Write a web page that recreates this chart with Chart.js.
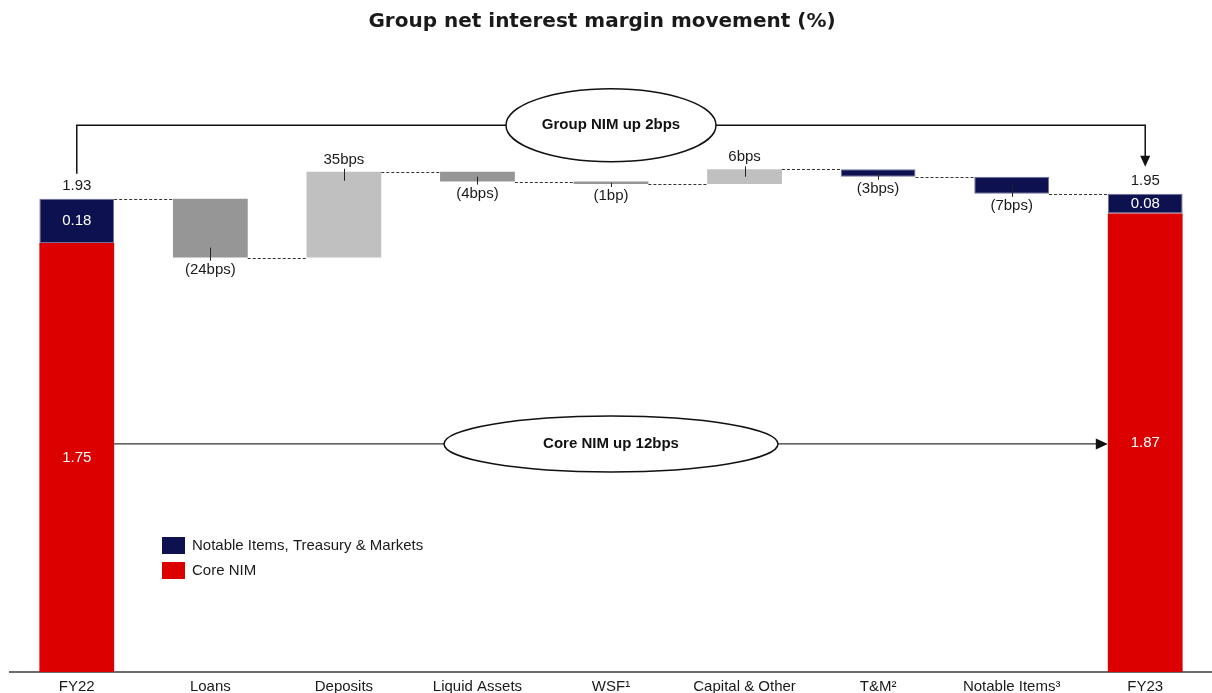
<!DOCTYPE html>
<html><head><meta charset="utf-8">
<script src="https://cdn.jsdelivr.net/npm/chart.js@4.4.0/dist/chart.umd.min.js"></script>
<style>html,body{margin:0;padding:0;background:#fff}#wrap{width:1212px;height:693px;position:relative}</style>
</head><body><div id="wrap"><canvas id="c" width="1212" height="693"></canvas></div>
<script>
// ---- data ----
const chartTitle = 'Group net interest margin movement (%)';
const categories = ['FY22', 'Loans', 'Deposits', 'Liquid Assets', 'WSF\u00B9', 'Capital & Other', 'T&M\u00B2', 'Notable Items\u00B3', 'FY23'];
const coreNim = [1.75, null, null, null, null, null, null, null, 1.87];
const notableTreasuryMarkets = [0.18, null, null, null, null, null, null, null, 0.08];
const groupNim = [1.93, null, null, null, null, null, null, null, 1.95];
const movementBps = [null, -24, 35, -4, -1, 6, -3, -7, null];
const movementLabels = ['', '(24bps)', '35bps', '(4bps)', '(1bp)', '6bps', '(3bps)', '(7bps)', ''];
const valueLabelsCore = ['1.75', '', '', '', '', '', '', '', '1.87'];
const valueLabelsNitm = ['0.18', '', '', '', '', '', '', '', '0.08'];
const totalLabels = ['1.93', '', '', '', '', '', '', '', '1.95'];
const groupNote = 'Group NIM up 2bps';
const coreNote = 'Core NIM up 12bps';

// ---- styles ----
const RED = '#dc0000', NAVY = '#0e1150', DARK = '#969696', LIGHT = '#c0c0c0';
const moveColorByCategory = {
  'Loans': DARK, 'Deposits': LIGHT, 'Liquid Assets': DARK, 'WSF\u00B9': DARK,
  'Capital & Other': LIGHT, 'T&M\u00B2': NAVY, 'Notable Items\u00B3': NAVY
};
const FONT = '"Liberation Sans", Arial, sans-serif';

// ---- derived ranges ----
const coreRanges = coreNim.map(v => v == null ? null : [0, v]);
const nitmRanges = coreNim.map((v, i) => v == null ? null : [v, +(v + notableTreasuryMarkets[i]).toFixed(4)]);
let run = groupNim[0];
const moveRanges = movementBps.map(b => {
  if (b == null) return null;
  const s = run; run = +(run + b / 100).toFixed(4); return [s, run];
});

const overlay = {
  id: 'overlay',
  afterDatasetsDraw(chart) {
    const ctx = chart.ctx, ys = chart.scales.y, ca = chart.chartArea;
    const mCore = chart.getDatasetMeta(0), mMove = chart.getDatasetMeta(2);
    const barOf = i => (mMove.data[i] && moveRanges[i]) ? mMove.data[i] : mCore.data[i];
    ctx.save();
    ctx.textAlign = 'center'; ctx.textBaseline = 'middle';
    // title
    ctx.fillStyle = '#1a1a1a'; ctx.font = 'bold 20px "DejaVu Sans", sans-serif';
    ctx.fillText(chartTitle, chart.width / 2 - 4, 22);
    // stack labels
    categories.forEach((c, i) => {
      if (coreNim[i] == null) return;
      const bx = mCore.data[i].x;
      ctx.fillStyle = '#fff'; ctx.font = '15px ' + FONT;
      ctx.fillText(valueLabelsCore[i], bx, (ys.getPixelForValue(0) + ys.getPixelForValue(coreNim[i])) / 2);
      ctx.fillText(valueLabelsNitm[i], bx, (ys.getPixelForValue(nitmRanges[i][0]) + ys.getPixelForValue(nitmRanges[i][1])) / 2);
      ctx.fillStyle = '#1a1a1a';
      ctx.fillText(totalLabels[i], bx, ys.getPixelForValue(groupNim[i]) - 13);
    });
    // movement labels + ticks
    ctx.strokeStyle = '#222'; ctx.lineWidth = 1;
    movementBps.forEach((b, i) => {
      if (b == null) return;
      const bar = mMove.data[i], bx = Math.round(bar.x) + 0.5;
      const p0 = ys.getPixelForValue(moveRanges[i][0]), p1 = ys.getPixelForValue(moveRanges[i][1]);
      const top = Math.min(p0, p1), bot = Math.max(p0, p1), mid = (top + bot) / 2;
      ctx.fillStyle = '#1a1a1a'; ctx.font = '15px ' + FONT;
      ctx.beginPath();
      if (b < 0) {
        ctx.moveTo(bx, Math.max(mid, bot - 10)); ctx.lineTo(bx, bot + 3);
        ctx.stroke(); ctx.fillText(movementLabels[i], bar.x, bot + 12);
      } else {
        ctx.moveTo(bx, top - 3); ctx.lineTo(bx, Math.min(mid, top + 9));
        ctx.stroke(); ctx.fillText(movementLabels[i], bar.x, top - 12);
      }
    });
    // connectors
    ctx.setLineDash([3, 2]); ctx.strokeStyle = '#333';
    for (let i = 0; i < categories.length - 1; i++) {
      const endVal = moveRanges[i] ? moveRanges[i][1] : groupNim[i];
      const a = barOf(i), b = barOf(i + 1);
      const yy = Math.round(ys.getPixelForValue(endVal)) + 0.5;
      ctx.beginPath(); ctx.moveTo(a.x + a.width / 2, yy); ctx.lineTo(b.x - b.width / 2, yy); ctx.stroke();
    }
    ctx.setLineDash([]);
    // group bracket
    const xL = mCore.data[0].x, xR = mCore.data[8].x;
    const yTop = ys.getPixelForValue(2.23);
    ctx.strokeStyle = '#111'; ctx.lineWidth = 1.5;
    ctx.beginPath();
    ctx.moveTo(xL, ys.getPixelForValue(groupNim[0]) - 25);
    ctx.lineTo(xL, yTop); ctx.lineTo(xR, yTop);
    ctx.lineTo(xR, ys.getPixelForValue(groupNim[8]) - 36);
    ctx.stroke();
    const tipG = ys.getPixelForValue(groupNim[8]) - 27;
    ctx.fillStyle = '#111';
    ctx.beginPath(); ctx.moveTo(xR, tipG); ctx.lineTo(xR - 5, tipG - 11); ctx.lineTo(xR + 5, tipG - 11); ctx.closePath(); ctx.fill();
    const cx = (xL + xR) / 2;
    ctx.beginPath(); ctx.ellipse(cx, yTop, 105, 36.5, 0, 0, Math.PI * 2);
    ctx.fillStyle = '#fff'; ctx.fill(); ctx.stroke();
    ctx.fillStyle = '#111'; ctx.font = 'bold 15px ' + FONT;
    ctx.fillText(groupNote, cx, yTop);
    // core line
    const yC = ys.getPixelForValue(0.93);
    const l0 = mCore.data[0].x + mCore.data[0].width / 2, r0 = mCore.data[8].x - mCore.data[8].width / 2;
    ctx.strokeStyle = '#333'; ctx.lineWidth = 1.2;
    ctx.beginPath(); ctx.moveTo(l0, yC); ctx.lineTo(r0 - 10, yC); ctx.stroke();
    ctx.fillStyle = '#111';
    ctx.beginPath(); ctx.moveTo(r0, yC); ctx.lineTo(r0 - 12, yC - 5.5); ctx.lineTo(r0 - 12, yC + 5.5); ctx.closePath(); ctx.fill();
    ctx.strokeStyle = '#111'; ctx.lineWidth = 1.5;
    ctx.beginPath(); ctx.ellipse(cx, yC, 167, 28, 0, 0, Math.PI * 2);
    ctx.fillStyle = '#fff'; ctx.fill(); ctx.stroke();
    ctx.fillStyle = '#111'; ctx.font = 'bold 15px ' + FONT;
    ctx.fillText(coreNote, cx, yC);
    // legend
    const lx = ca.left + 152, ly = ca.bottom - 135;
    const items = [chart.data.datasets[1], chart.data.datasets[0]];
    ctx.textAlign = 'left'; ctx.font = '15px ' + FONT;
    items.forEach((d, k) => {
      ctx.fillStyle = d.backgroundColor; ctx.fillRect(lx, ly + k * 25, 23, 17);
      ctx.fillStyle = '#1a1a1a'; ctx.fillText(d.label, lx + 30, ly + k * 25 + 9);
    });
    ctx.restore();
  }
};

new Chart(document.getElementById('c'), {
  type: 'bar',
  data: {
    labels: categories,
    datasets: [
      { label: 'Core NIM', data: coreRanges, backgroundColor: RED, borderWidth: 0 },
      { label: 'Notable Items, Treasury & Markets', data: nitmRanges, backgroundColor: NAVY, borderColor: '#6d71a0', borderWidth: 1 },
      { label: 'Movement', data: moveRanges,
        backgroundColor: c => moveColorByCategory[categories[c.dataIndex]] || DARK,
        borderColor: '#6d71a0',
        borderWidth: c => moveColorByCategory[categories[c.dataIndex]] === NAVY ? 1 : 0 }
    ]
  },
  options: {
    responsive: false, animation: false, devicePixelRatio: 1,
    layout: { padding: { left: 10, right: 0, top: 59, bottom: -9 } },
    datasets: { bar: { grouped: false, categoryPercentage: 1, barPercentage: 0.56, borderSkipped: false } },
    scales: {
      x: { grid: { display: false, drawTicks: false }, border: { display: true, color: '#6b6b6b', width: 2 },
           ticks: { color: '#1a1a1a', font: { family: FONT, size: 15 }, padding: 6, maxRotation: 0, autoSkip: false } },
      y: { display: false, min: 0, max: 2.5 }
    },
    plugins: { legend: { display: false }, tooltip: { enabled: false }, title: { display: false } }
  },
  plugins: [overlay]
});
</script></body></html>
